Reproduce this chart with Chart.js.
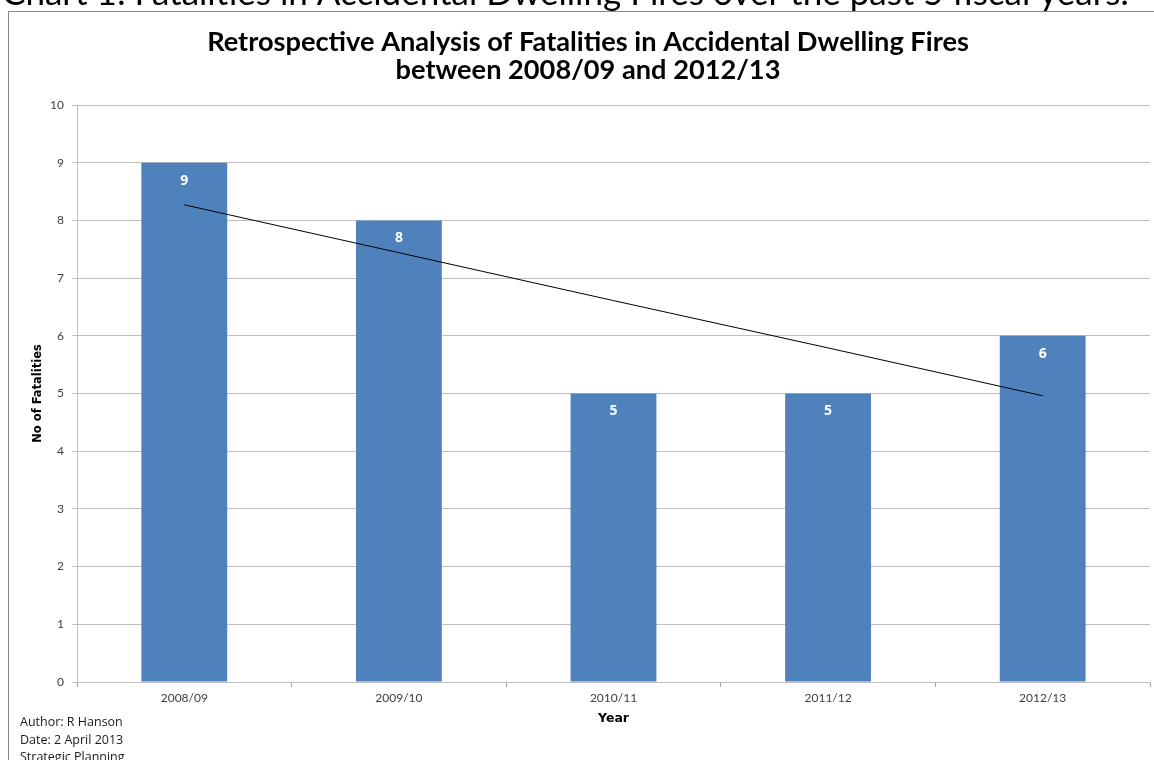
<!DOCTYPE html>
<html>
<head>
<meta charset="utf-8">
<title>Fatalities in Accidental Dwelling Fires</title>
<script src="https://cdn.jsdelivr.net/npm/chart.js@4.4.1/dist/chart.umd.min.js"></script>
<style>
  html, body { margin: 0; padding: 0; background: #ffffff; overflow: hidden; }
  #wrap { position: absolute; left: 0; top: 0; width: 1154px; height: 760px; }
  canvas { display: block; }
</style>
</head>
<body>
<div id="wrap"><canvas id="chart" width="1154" height="760"></canvas></div>
<script>
// ---- data ----
const years = ['2008/09', '2009/10', '2010/11', '2011/12', '2012/13'];
const fatalities = [9, 8, 5, 5, 6];
const trendValues = [8.27, 7.44, 6.61, 5.79, 4.96];
const yMin = 0;
const yMax = 10;
const yStep = 1;

// ---- text ----
const headerText = 'Chart 1: Fatalities in Accidental Dwelling Fires over the past 5 fiscal years.';
const titleLines = ['Retrospective Analysis of Fatalities in Accidental Dwelling Fires',
                    'between 2008/09 and 2012/13'];
const yAxisTitle = 'No of Fatalities';
const xAxisTitle = 'Year';
const footLines = ['Author: R Hanson', 'Date: 2 April 2013', 'Strategic Planning'];

const BAR_BLUE = '#4f81bd';
const GRID_GREY = '#bfbfbf';
const TICK_TEXT = '#404040';
const SANS = 'Lato, "DejaVu Sans", sans-serif';
const WIDE = '"DejaVu Sans", Lato, sans-serif';
const NOTE_FONT = '"Open Sans", "Liberation Sans", sans-serif';

// pick a font size so a string spans a given width
function fitSize(ctx, text, weight, family, width) {
  ctx.font = weight + ' 100px ' + family;
  return 100 * width / ctx.measureText(text).width;
}

const decorations = {
  id: 'decorations',
  beforeDraw(chart) {
    const ctx = chart.ctx;
    ctx.save();
    ctx.fillStyle = '#ffffff';
    ctx.fillRect(0, 0, chart.width, chart.height);
    // chart frame
    ctx.strokeStyle = '#878787';
    ctx.lineWidth = 1;
    ctx.strokeRect(8.5, 11.5, chart.width + 20, chart.height + 20);
    ctx.restore();
  },
  afterDatasetsDraw(chart) {
    const ctx = chart.ctx;
    ctx.save();
    // value labels inside the top of each bar
    const meta = chart.getDatasetMeta(0);
    ctx.fillStyle = '#ffffff';
    ctx.font = 'bold 14px "Open Sans", "Liberation Sans", sans-serif';
    ctx.textAlign = 'center';
    ctx.textBaseline = 'middle';
    meta.data.forEach((bar, i) => {
      ctx.fillText(String(fatalities[i]), bar.x, bar.y + 18);
    });
    ctx.restore();
  },
  afterDraw(chart) {
    const ctx = chart.ctx;
    ctx.save();
    // document heading above the frame
    const hs = fitSize(ctx, headerText, 'normal', SANS, 1127);
    ctx.font = 'normal ' + hs + 'px ' + SANS;
    ctx.fillStyle = '#000000';
    ctx.textAlign = 'left';
    ctx.textBaseline = 'alphabetic';
    ctx.fillText(headerText, 2, 5);

    // chart title
    const ts = fitSize(ctx, titleLines[0], 'bold', SANS, 762);
    ctx.font = 'bold ' + ts + 'px ' + SANS;
    ctx.textAlign = 'center';
    ctx.fillStyle = '#000000';
    ctx.fillText(titleLines[0], 588, 51);
    ctx.fillText(titleLines[1], 588, 79);

    // author notes
    ctx.font = '12.5px ' + NOTE_FONT;
    ctx.textAlign = 'left';
    ctx.fillStyle = '#1a1a1a';
    footLines.forEach((t, i) => ctx.fillText(t, 20, 726 + i * 17.5));
    ctx.restore();
  }
};

new Chart(document.getElementById('chart'), {
  type: 'bar',
  data: {
    labels: years,
    datasets: [
      {
        label: 'Fatalities',
        data: fatalities,
        backgroundColor: BAR_BLUE,
        borderWidth: 0,
        categoryPercentage: 1.0,
        barPercentage: 0.4,
        order: 1
      },
      {
        type: 'line',
        label: 'Trend',
        data: trendValues,
        borderColor: '#000000',
        borderWidth: 1,
        pointRadius: 0,
        fill: false,
        tension: 0,
        order: 0
      }
    ]
  },
  options: {
    responsive: false,
    animation: false,
    devicePixelRatio: 1,
    layout: { padding: { left: 0, top: 105, right: 4, bottom: 0 } },
    plugins: {
      legend: { display: false },
      tooltip: { enabled: false },
      title: { display: false }
    },
    scales: {
      x: {
        offset: true,
        grid: {
          display: true,
          offset: true,
          drawOnChartArea: false,
          drawTicks: true,
          tickLength: 5,
          color: '#a6a6a6'
        },
        border: { display: true, color: GRID_GREY, width: 1 },
        ticks: {
          color: TICK_TEXT,
          font: { family: SANS, size: 12 },
          padding: 4,
          maxRotation: 0
        },
        title: {
          display: true,
          text: xAxisTitle,
          color: '#000000',
          font: { family: WIDE, size: 12.5, weight: 'bold' },
          padding: { top: 0, bottom: 34 }
        },
        afterFit(scale) { scale.height = 78; }
      },
      y: {
        min: yMin,
        max: yMax,
        ticks: {
          stepSize: yStep,
          color: TICK_TEXT,
          font: { family: SANS, size: 12 },
          padding: 8
        },
        grid: {
          color: GRID_GREY,
          tickLength: 5,
          drawTicks: true
        },
        border: { display: true, color: GRID_GREY, width: 1 },
        title: {
          display: true,
          text: yAxisTitle,
          color: '#000000',
          font: { family: WIDE, size: 11.5, weight: 'bold' },
          padding: { top: 31, bottom: 0 }
        },
        afterFit(scale) { scale.width = 77; }
      }
    }
  },
  plugins: [decorations]
});
</script>
</body>
</html>
